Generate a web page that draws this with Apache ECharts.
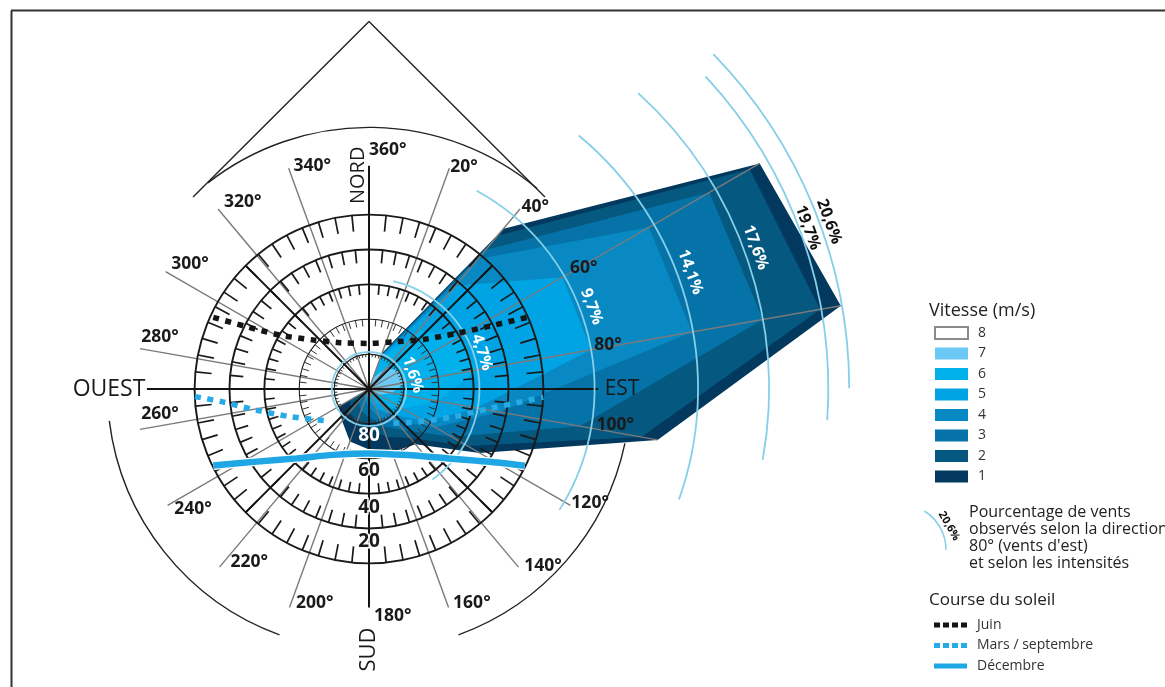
<!DOCTYPE html>
<html>
<head>
<meta charset="utf-8">
<title>Rose des vents</title>
<style>
html, body { margin: 0; padding: 0; background: #fff; }
#chart { width: 1165px; height: 687px; }
</style>
<script src="https://cdn.jsdelivr.net/npm/echarts@6/dist/echarts.min.js"></script>
</head>
<body>
<div id="chart"></div>
<script>
// directions of the wind rose (degrees from north)
var directions = [20, 40, 60, 80, 100, 120, 140, 160, 180, 200, 220, 240];

// cumulated percentage of wind per direction, one list per speed class
var speed1 = [1.65, 9.0, 19.4, 20.6, 12.6, 5.5, 3.1, 2.9, 2.6, 2.4, 1.8, 1.5];
var speed2 = [1.6, 8.6, 18.9, 19.7, 11.9, 4.9, 2.75, 2.2, 1.7, 1.55, 1.3, 0.9];
var speed3 = [1.55, 7.8, 16.9, 17.2, 9.2, 4.1, 2.3, 1.7, 1.2, 1.0, 0.7, 0.3];
var speed4 = [1.5, 7.3, 13.9, 14.1, 5.7, 3.3, 1.8, 1.3, 0.8, 0.5, 0.3, 0];
var speed5 = [1.45, 5.8, 9.6, 9.7, 4.7, 2.8, 1.4, 0.9, 0.5, 0.3, 0.1, 0];
var speed6 = [1.3, 3.3, 4.5, 4.7, 3.0, 1.7, 1.0, 0.5, 0.2, 0.1, 0, 0];
var speed7 = [0.5, 1.2, 1.5, 1.6, 1.0, 0.5, 0.2, 0.1, 0, 0, 0, 0];
var speedSeries = [speed1, speed2, speed3, speed4, speed5, speed6, speed7];
var speedNames = ['1', '2', '3', '4', '5', '6', '7', '8'];
var speedColors = ['#03395e', '#05587f', '#0673a8', '#0889c4', '#00a4e4', '#00b1ec', '#6cc8f5', '#ffffff'];

// sun course, [radius, direction]
var sunJune = [[7.37, 294.7], [5.9, 297], [4.47, 301.2], [3.19, 311.4], [2.35, 328], [1.96, 0], [2.36, 30.3], [3.16, 47.6], [4.46, 57.6], [5.86, 62.5], [7.44, 65.6]];
var sunMarch = [[7.49, 267.5], [6.36, 265.1], [4.98, 259.6], [3.6, 250.7], [2.33, 234.3], '-', [1.81, 144.7], [2.6, 122.6], [3.82, 108.2], [5.27, 99.1], [6.94, 93.9], [7.5, 92.7]];
var sunDecember = [[7.46, 243.8], [5.75, 237.1], [4.31, 226.2], [3.22, 208.4], [2.77, 180], [3.27, 150.3], [4.47, 131.8], [5.94, 121.7], [7.47, 116.2]];

// sun height rings
var ringHeights = ['80', '60', '40', '20', '0'];
var ringRadius = [1.5, 3, 4.5, 6, 7.5];
var ringTickLength = [0.13, 0.3, 0.43, 0.57, 0.7];
var tickStep = 5.625;
var tickCount = 64;

// spokes
var rayAngles = [20, 40, 60, 80, 100, 120, 140, 160, 200, 220, 240, 260, 280, 300, 320, 340];
var rayEnds = [10.1, 10.1, 19.4, 20.6, 12.6, 10, 10, 10, 10, 10, 10, 10, 10, 10.1, 10.1, 10.1];
var mainAngles = [0, 45, 90, 135, 180, 225, 270, 315];
var mainEnds = [9.6, 7.5, 9.85, 7.5, 9.4, 7.5, 9.55, 7.5];

// percentage arcs along direction 80
var percentRadius = [1.6, 4.75, 9.7, 14.15, 17.2, 19.75, 20.65];
var percentFrom = [0, 12.6, 28.5, 39.6, 42.3, 47.1, 45.8];
var percentTo = [360, 145, 122.4, 109.6, 100.2, 93.9, 89.9];
var percentText = ['1,6%', '4,7%', '9,7%', '14,1%', '17,6%', '19,7%', '20,6%'];
var percentTextRadius = [1.98, 5.1, 10.2, 14.7, 17.7, 20.1, 21.05];
var percentTextAngle = [72, 72, 69.7, 70, 69.9, 69.8, 70];
var percentTextColor = ['#fff', '#fff', '#fff', '#fff', '#fff', '#111', '#111'];

// degree labels
var degreeText = ['360°', '20°', '40°', '60°', '80°', '100°', '120°', '140°', '160°', '180°', '200°', '220°', '240°', '260°', '280°', '300°', '320°', '340°'];
var degreeRadius = [10.3, 10.4, 10.6, 10.6, 10.45, 10.7, 10.7, 10.67, 10.2, 9.8, 9.5, 9.05, 9.16, 9.05, 9.26, 9.38, 9.7, 9.9];
var degreeAngle = [4.5, 23.1, 42.4, 60.6, 79.6, 98.3, 117.3, 135.5, 154.3, 174, 194.2, 214.7, 235.7, 263.2, 283.9, 304.9, 326, 345.7];

// compass names
var compassText = ['NORD', 'EST', 'SUD', 'OUEST'];
var compassRadius = [9.2, 10.88, 11.2, 11.18];
var compassAngle = [357, 90, 180, 270];
var compassTurn = [90, 0, 90, 0];
var compassSize = [20, 21, 22, 23];

// height labels along the south line
var heightText = ['80', '60', '40', '20'];
var heightRadius = [2.02, 3.53, 5.12, 6.56];

// outer black arcs and roof
var outerRadius = 11.25;
var outerFrom = [322, 102, 200];
var outerTo = [400, 160, 263];
var roof = [[11.2, 317.5], [15.8, 0], [11.2, 42.5]];

var fontName = '"Open Sans", "Noto Sans", sans-serif';

// four squares, for the dashed sun courses in the legend
var dashIcon = 'path://M0 0h6v5H0zM9 0h6v5H9zM18 0h6v5h-6zM27 0h6v5h-6z';

function arcShape(api, r, from, to, color, width) {
    var c = api.coord([0, 0]);
    var p = api.coord([r, 0]);
    return {
        type: 'arc',
        shape: {
            cx: c[0], cy: c[1], r: Math.abs(c[1] - p[1]),
            startAngle: (from - 90) * Math.PI / 180,
            endAngle: (to - 90) * Math.PI / 180,
            clockwise: true
        },
        style: { fill: 'none', stroke: color, lineWidth: width }
    };
}

function labelShape(api, r, angle, text, size, weight, color, turn, halo) {
    var p = api.coord([r, angle]);
    var item = {
        type: 'text',
        x: p[0],
        y: p[1],
        rotation: (turn || 0) * Math.PI / 180,
        style: {
            text: text,
            fill: color,
            fontFamily: fontName,
            fontSize: size,
            fontWeight: weight,
            align: 'center',
            verticalAlign: 'middle'
        }
    };
    if (halo) {
        item.style.stroke = '#fff';
        item.style.lineWidth = 3;
    }
    return item;
}

var series = [];

// wind shape, darkest first so the lighter classes stack on top
speedSeries.forEach(function (values, level) {
    series.push({
        name: speedNames[level],
        type: 'custom',
        coordinateSystem: 'polar',
        z: 2,
        silent: true,
        itemStyle: { color: speedColors[level] },
        data: [[0, 0]],
        renderItem: function (params, api) {
            var points = [api.coord([0, 0])];
            directions.forEach(function (d, i) {
                points.push(api.coord([values[i], d]));
            });
            return {
                type: 'polygon',
                shape: { points: points },
                style: { fill: speedColors[level] }
            };
        }
    });
});

series.push({
    name: '8',
    type: 'custom',
    coordinateSystem: 'polar',
    itemStyle: { color: '#fff', borderColor: '#8a8a8a', borderWidth: 1 },
    data: [],
    renderItem: function () { return null; }
});

// gray spokes
series.push({
    type: 'custom',
    coordinateSystem: 'polar',
    z: 3,
    silent: true,
    data: rayAngles.map(function (a, i) { return [rayEnds[i], a]; }),
    renderItem: function (params, api) {
        var c = api.coord([0, 0]);
        var p = api.coord([api.value(0), api.value(1)]);
        return {
            type: 'line',
            shape: { x1: c[0], y1: c[1], x2: p[0], y2: p[1] },
            style: { stroke: '#7a7a7a', lineWidth: 1.4 }
        };
    }
});

// rings with their ticks
series.push({
    type: 'custom',
    coordinateSystem: 'polar',
    z: 4,
    silent: true,
    data: ringRadius.map(function (r, i) { return [r, ringTickLength[i]]; }),
    renderItem: function (params, api) {
        var r = api.value(0);
        var len = api.value(1);
        var thin = params.dataIndex < 2;
        var children = [arcShape(api, r, 0, 360, '#1a1a1a', thin ? 1.1 : 1.9)];
        for (var k = 0; k < tickCount; k++) {
            var p1 = api.coord([r, k * tickStep]);
            var p2 = api.coord([r - len, k * tickStep]);
            children.push({
                type: 'line',
                shape: { x1: p1[0], y1: p1[1], x2: p2[0], y2: p2[1] },
                style: { stroke: thin ? '#333' : '#1a1a1a', lineWidth: thin ? 1 : 1.7 }
            });
        }
        return { type: 'group', children: children };
    }
});

// black main axes
series.push({
    type: 'custom',
    coordinateSystem: 'polar',
    z: 5,
    silent: true,
    data: mainAngles.map(function (a, i) { return [mainEnds[i], a]; }),
    renderItem: function (params, api) {
        var c = api.coord([0, 0]);
        var p = api.coord([api.value(0), api.value(1)]);
        return {
            type: 'line',
            shape: { x1: c[0], y1: c[1], x2: p[0], y2: p[1] },
            style: { stroke: '#141414', lineWidth: 2 }
        };
    }
});

// percentage arcs
series.push({
    type: 'custom',
    coordinateSystem: 'polar',
    z: 6,
    silent: true,
    data: percentRadius.map(function (r, i) { return [r, percentFrom[i]]; }),
    renderItem: function (params, api) {
        var i = params.dataIndex;
        return arcShape(api, percentRadius[i], percentFrom[i], percentTo[i], '#86cfe8', 1.8);
    }
});

// outer arcs
series.push({
    type: 'custom',
    coordinateSystem: 'polar',
    z: 3,
    silent: true,
    data: outerFrom.map(function (a) { return [outerRadius, a]; }),
    renderItem: function (params, api) {
        var i = params.dataIndex;
        return arcShape(api, outerRadius, outerFrom[i], outerTo[i], '#222', 1.4);
    }
});

// roof above north
series.push({
    type: 'line',
    coordinateSystem: 'polar',
    z: 3,
    symbol: 'none',
    silent: true,
    lineStyle: { color: '#222', width: 1.4 },
    data: roof
});

// sun course
series.push({
    type: 'line',
    coordinateSystem: 'polar',
    z: 6,
    symbol: 'none',
    smooth: 0.3,
    silent: true,
    lineStyle: { color: '#fff', width: 9 },
    data: sunDecember
});
series.push({
    name: 'Décembre',
    type: 'line',
    coordinateSystem: 'polar',
    z: 7,
    symbol: 'none',
    smooth: 0.3,
    silent: true,
    itemStyle: { color: '#1ea7e4' },
    lineStyle: { color: '#1ea7e4', width: 6.5 },
    data: sunDecember
});
series.push({
    name: 'Mars / septembre',
    type: 'line',
    coordinateSystem: 'polar',
    z: 7,
    symbol: 'none',
    smooth: 0.3,
    connectNulls: false,
    silent: true,
    itemStyle: { color: '#27abe6' },
    lineStyle: { color: '#27abe6', width: 5.5, type: [6, 6.5] },
    data: sunMarch
});
series.push({
    name: 'Juin',
    type: 'line',
    coordinateSystem: 'polar',
    z: 7,
    symbol: 'none',
    smooth: 0.3,
    silent: true,
    itemStyle: { color: '#151515' },
    lineStyle: { color: '#151515', width: 5.5, type: [6, 6.5] },
    data: sunJune
});

// all the text inside the rose
series.push({
    type: 'custom',
    coordinateSystem: 'polar',
    z: 9,
    silent: true,
    data: [[0, 0]],
    renderItem: function (params, api) {
        var children = [];
        degreeText.forEach(function (t, i) {
            children.push(labelShape(api, degreeRadius[i], degreeAngle[i], t, 17.5, 700, '#1a1a1a'));
        });
        compassText.forEach(function (t, i) {
            children.push(labelShape(api, compassRadius[i], compassAngle[i], t, compassSize[i], 400, '#1a1a1a', compassTurn[i]));
        });
        percentText.forEach(function (t, i) {
            children.push(labelShape(api, percentTextRadius[i], percentTextAngle[i], t, 16, 700, percentTextColor[i], -percentTextAngle[i]));
        });
        heightText.forEach(function (t, i) {
            children.push(labelShape(api, heightRadius[i], 180, t, 19, 700, i == 0 ? '#fff' : '#1a1a1a', 0, i > 0));
        });
        return { type: 'group', children: children };
    }
});

var chart = echarts.init(document.getElementById('chart'));
chart.setOption({
    animation: false,
    backgroundColor: '#fff',
    polar: { center: [369, 389], radius: [0, 500] },
    radiusAxis: { type: 'value', min: 0, max: 21.5, show: false },
    angleAxis: { type: 'value', min: 0, max: 360, startAngle: 90, show: false },
    legend: [
        {
            left: 929,
            top: 321,
            orient: 'vertical',
            icon: 'rect',
            itemWidth: 33,
            itemHeight: 12,
            itemGap: 6.5,
            selectedMode: false,
            data: ['8', '7', '6', '5', '4', '3', '2', '1'],
            textStyle: { fontFamily: fontName, fontSize: 14, color: '#333', padding: [0, 0, 0, 5] }
        },
        {
            left: 929,
            top: 613,
            orient: 'vertical',
            itemWidth: 33,
            itemHeight: 5,
            itemGap: 6.5,
            selectedMode: false,
            data: [
                { name: 'Juin', icon: dashIcon },
                { name: 'Mars / septembre', icon: dashIcon },
                { name: 'Décembre', icon: 'rect' }
            ],
            textStyle: { fontFamily: fontName, fontSize: 14, color: '#333', padding: [0, 0, 0, 5] }
        }
    ],
    graphic: [
        { type: 'line', shape: { x1: 11.5, y1: 10.5, x2: 11.5, y2: 687 }, style: { stroke: '#333', lineWidth: 2 } },
        { type: 'line', shape: { x1: 11, y1: 10.5, x2: 1165, y2: 10.5 }, style: { stroke: '#333', lineWidth: 2 } },
        { type: 'text', x: 929, y: 302, style: { text: 'Vitesse (m/s)', fill: '#222', fontFamily: fontName, fontSize: 18 } },
        { type: 'text', x: 929, y: 592, style: { text: 'Course du soleil', fill: '#222', fontFamily: fontName, fontSize: 17 } },
        { type: 'text', x: 969, y: 504, style: { text: 'Pourcentage de vents\nobservés selon la direction\n80° (vents d\'est)\net selon les intensités', fill: '#222', fontFamily: fontName, fontSize: 16, lineHeight: 17 } },
        { type: 'arc', shape: { cx: 900, cy: 550, r: 46, startAngle: -58 * Math.PI / 180, endAngle: 0, clockwise: true }, style: { fill: 'none', stroke: '#86cfe8', lineWidth: 1.5 } },
        { type: 'text', x: 949, y: 526, rotation: -60 * Math.PI / 180, style: { text: '20,6%', fill: '#111', fontFamily: fontName, fontSize: 11, fontWeight: 700, align: 'center', verticalAlign: 'middle' } }
    ],
    series: series
});
</script>
</body>
</html>
